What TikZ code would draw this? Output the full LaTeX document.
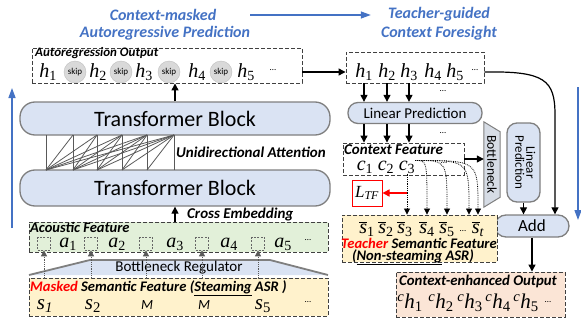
\documentclass[tikz,border=0pt]{standalone}
\usepackage{fontspec}
\setmainfont{Carlito}
\newfontfamily\tokf{Liberation Serif}
\usetikzlibrary{arrows.meta}

\definecolor{tfblue}{HTML}{DAE3F3}
\definecolor{lineg}{HTML}{7F7F7F}
\definecolor{acgreen}{HTML}{E2F0D9}
\definecolor{semcream}{HTML}{FFF2CC}
\definecolor{outpeach}{HTML}{FBE5D6}
\definecolor{skipg}{HTML}{D9D9D9}
\definecolor{titleblue}{HTML}{4472C4}
\definecolor{attg}{HTML}{595959}
\definecolor{bnkfill}{HTML}{D6DCE5}

% tokens: plain, italic index, barred, context-enhanced
\newcommand\tkn[2]{{\tokf\itshape #1}\textsubscript{\tokf #2}}
\newcommand\tki[2]{{\tokf\itshape #1}\textsubscript{\tokf\itshape #2}}
\newcommand\tkb[2]{$\overline{\mbox{\tokf\itshape #1}}$\textsubscript{\tokf #2}}
\newcommand\tkc[1]{\textsuperscript{\tokf\itshape c}{\tokf\itshape h}\textsubscript{\tokf #1}}
\newcommand\lblsize[1]{\fontsize{#1}{#1}\selectfont\bfseries\itshape}

\begin{document}
\begin{tikzpicture}[x=1pt, y=-1pt,
    dbox/.style={draw=black!75, dash pattern=on 4pt off 2pt, line width=0.9pt, inner sep=0},
    blk/.style={draw=lineg, line width=1.3pt, fill=tfblue, inner sep=0},
    lbl/.style={font=\lblsize{13}, inner sep=1pt, anchor=west},
    ttl/.style={font=\fontsize{16}{16}\selectfont\bfseries\itshape, text=titleblue, inner sep=0},
    tok/.style={font=\fontsize{20}{20}\selectfont, inner sep=0},
    dts/.style={font=\fontsize{9}{9}\selectfont, inner sep=0},
    skp/.style={circle, draw=black!25, fill=skipg, minimum size=22pt, inner sep=0, font=\fontsize{9}{9}\selectfont},
    sq/.style={draw=black!60, dash pattern=on 2pt off 1.5pt, line width=0.7pt, minimum size=13pt, inner sep=0},
    arr/.style={-{Triangle[length=7pt,width=7pt]}, line width=1.2pt},
    dotarr/.style={densely dotted, line width=0.8pt, -{Triangle[length=6pt,width=6pt]}},
    gdot/.style={attg, densely dotted, line width=0.8pt, -{Triangle[length=6pt,width=6pt]}},
    bluearr/.style={titleblue, line width=1.3pt, -{Triangle[length=10pt,width=7pt]}},
    redarr/.style={red, line width=1.5pt, -{Triangle[length=7pt,width=7pt]}}
  ]
  \useasboundingbox (0,0) rectangle (581,321);

  % titles
  \node[ttl] (t1a) at (163,15) {Context-masked};
  \node[ttl] (t1b) at (165,33) {Autoregressive Prediction};
  \node[ttl] (t2a) at (439,14) {Teacher-guided};
  \node[ttl] (t2b) at (439,33) {Context Foresight};
  \coordinate (tarr) at ([xshift=-10pt]t2b.west);
  \draw[bluearr] (t1b.east |- t1a) -- (tarr |- t1a);

  \coordinate (lb0) at (12,228);
  \coordinate (lb1) at (12,88);
  \draw[bluearr] (lb0) -- (lb1);
  \coordinate (rb0) at (578,87);
  \coordinate (rb1) at (578,220);
  \draw[bluearr] (rb0) -- (rb1);

  % autoregression output
  \node[dbox, minimum width=270pt, minimum height=35pt] (arout) at (167,65.5) {};
  \node[lbl] (arlbl) at (34,53) {Autoregression Output};
  \node[tok] (ah1) at (48,72) {\tkn{h}{1}};
  \node[skp] (sk1) at (75,72) {skip};
  \node[tok] (ah2) at (98,72) {\tkn{h}{2}};
  \node[skp] (sk2) at (121,72) {skip};
  \node[tok] (ah3) at (144,72) {\tkn{h}{3}};
  \node[skp] (sk3) at (169,72) {skip};
  \node[tok] (ah4) at (197,72) {\tkn{h}{4}};
  \node[skp] (sk4) at (221,72) {skip};
  \node[tok] (ah5) at (246,72) {\tkn{h}{5}};
  \node[dts] (adots) at (273,70) {\dots};

  % transformer blocks
  \node[blk, rounded corners=15pt, minimum width=310pt, minimum height=33pt,
        font=\fontsize{22}{22}\selectfont] (tb2) at (175,118.5) {Transformer Block};
  \node[blk, rounded corners=15pt, minimum width=310pt, minimum height=36pt,
        font=\fontsize{22}{22}\selectfont] (tb1) at (175,188) {Transformer Block};
  \draw[arr] (tb2.north) -- (tb2.north |- arout.south);

  % unidirectional attention
  \foreach \i/\x in {1/46,2/73,3/97,4/122,5/147,6/174} {
    \coordinate (at\i) at (\x,135);
    \coordinate (ab\i) at (\x,170);
  }
  \foreach \i in {1,...,6} {
    \draw[attg, line width=0.8pt] (ab\i) -- (at\i);
    \foreach \j in {\i,...,6} {
      \ifnum\j>\i \draw[attg, line width=0.8pt] (ab\i) -- (at\j); \fi
    }
  }
  \node[lbl, font=\lblsize{15}] (ualbl) at (175,152) {Unidirectional Attention};

  % acoustic feature
  \node[dbox, fill=acgreen, minimum width=299pt, minimum height=30pt] (acou) at (178.5,237) {};
  \draw[arr] (tb1.south |- acou.north) -- (tb1.south);
  \node[lbl, font=\lblsize{15}] (celbl) at (186,214) {Cross Embedding};
  \node[lbl, font=\lblsize{14.5}] (aclbl) at (29,227.5) {Acoustic Feature};
  \node[sq] (sq1) at (44,243.5) {};
  \node[sq] (sq2) at (91,243.5) {};
  \node[sq] (sq3) at (146,243.5) {};
  \node[sq] (sq4) at (202,243.5) {};
  \node[sq] (sq5) at (258,243.5) {};
  \node[tok] (aa1) at (68,244) {\tkn{a}{1}};
  \node[tok] (aa2) at (117,244) {\tkn{a}{2}};
  \node[tok] (aa3) at (175,244) {\tkn{a}{3}};
  \node[tok] (aa4) at (229,244) {\tkn{a}{4}};
  \node[tok] (aa5) at (283,244) {\tkn{a}{5}};
  \node[dts] (acdots) at (308,240) {\dots};

  % bottleneck regulator
  \draw[lineg, line width=1.8pt, fill=tfblue] (29,275) -- (90,260) -- (270,260) -- (328,275);
  \node[font=\fontsize{15}{15}\selectfont, inner sep=0] (breg) at (179,267.5) {Bottleneck Regulator};

  % masked semantic feature
  \node[dbox, fill=semcream, minimum width=299pt, minimum height=38pt] (mk) at (178.5,297) {};
  \node[lbl, font=\lblsize{14.6}] (mklbl) at (29,288) {\textcolor{red}{Masked} Semantic Feature (\underline{Steaming} ASR )};
  \node[tok, font=\fontsize{21}{21}\selectfont] (ms1) at (45,306) {\tki{s}{1}};
  \node[tok, font=\fontsize{21}{21}\selectfont] (ms2) at (93,306) {\tkn{s}{2}};
  \node[tok, font=\fontsize{14}{14}\selectfont\itshape] (mm3) at (147,305) {M};
  \node[tok, font=\fontsize{14}{14}\selectfont\itshape] (mm4) at (204,305) {M};
  \node[tok, font=\fontsize{21}{21}\selectfont] (ms5) at (263,306) {\tkn{s}{5}};
  \node[dts] (mkdots) at (308,302) {\dots};
  \draw[gdot] (sq1 |- mklbl.north) -- (sq1.south);
  \draw[gdot] (sq2 |- mklbl.north) -- (sq2.south);
  \draw[gdot] (sq3 |- mklbl.north) -- (sq3.south);
  \draw[gdot] (sq4 |- mklbl.north) -- (sq4.south);
  \draw[gdot] (sq5 |- mklbl.north) -- (sq5.south);

  % teacher side
  \node[dbox, minimum width=138pt, minimum height=31pt] (hbox) at (415,67.5) {};
  \node[tok] (rh1) at (364,72) {\tkn{h}{1}};
  \node[tok] (rh2) at (387,72) {\tkn{h}{2}};
  \node[tok] (rh3) at (409,72) {\tkn{h}{3}};
  \node[tok] (rh4) at (433,72) {\tkn{h}{4}};
  \node[tok] (rh5) at (455,72) {\tkn{h}{5}};
  \node[dts] (rhdots) at (475,70) {\dots};
  \draw[arr] (arout.east |- rh1) -- (hbox.west |- rh1);

  \node[blk, rounded corners=10pt, minimum width=134pt, minimum height=21pt,
        font=\fontsize{15}{15}\selectfont] (lp) at (415,113) {Linear Prediction};
  \draw[arr] (rh1 |- hbox.south) -- (rh1 |- lp.north);
  \draw[arr] (rh2 |- hbox.south) -- (rh2 |- lp.north);
  \draw[arr] (rh3 |- hbox.south) -- (rh3 |- lp.north);
  \node[dts] (lpdots1) at (443,91) {\dots};

  \node[dbox, minimum width=121pt, minimum height=32pt] (ctx) at (403.5,159) {};
  \node[lbl, font=\lblsize{15}] (ctxlbl) at (343,150) {Context Feature};
  \node[tok] (cc1) at (365,167) {\tkn{c}{1}};
  \node[tok] (cc2) at (386,167) {\tkn{c}{2}};
  \node[tok] (cc3) at (407,167) {\tkn{c}{3}};
  \node[dts] (ccdots) at (444,163) {\dots};
  \draw[arr] (rh1 |- lp.south) -- (rh1 |- ctx.north);
  \draw[arr] (rh2 |- lp.south) -- (rh2 |- ctx.north);
  \draw[arr] (rh3 |- lp.south) -- (rh3 |- ctx.north);
  \node[dts] (lpdots2) at (443,133) {\dots};

  % bottleneck
  \node[minimum width=16pt, minimum height=85pt, inner sep=0] (bnk) at (492,164.5) {};
  \draw[lineg, line width=1pt, fill=bnkfill] (bnk.north west) -- ([yshift=-10pt]bnk.north east)
    -- ([yshift=10pt]bnk.south east) -- (bnk.south west) -- cycle;
  \node[font=\fontsize{13.5}{13.5}\selectfont, inner sep=0] (bnktxt) at (bnk) {\rotatebox{-90}{Bottleneck}};
  \draw[arr] (ctx.east) -- (ctx.east -| bnk.west);

  \node[blk, rounded corners=10pt, minimum width=33pt, minimum height=79pt,
        font=\fontsize{13}{13}\selectfont] (lpv) at (523.5,162.5)
        {\rotatebox{-90}{\begin{tabular}{@{}c@{}}Linear\\[-2pt]Prediction\end{tabular}}};

  \node[blk, rounded corners=11pt, minimum width=74pt, minimum height=22pt,
        font=\fontsize{17}{17}\selectfont] (add) at (532,226) {Add};
  \draw[arr] (lpv.south) -- (lpv.south |- add.north);
  \coordinate (addin) at ([xshift=23pt]add.north);
  \draw[arr] (hbox.east |- rh1) .. controls (545,71) and (555,80) .. (555,115) -- (addin);

  % teacher semantic feature
  \node[dbox, fill=semcream, minimum width=155pt, minimum height=47pt] (tb) at (419.5,238.5) {};
  \node[tok] (sb1) at (367,229) {\tkb{s}{1}};
  \node[tok] (sb2) at (386,229) {\tkb{s}{2}};
  \node[tok] (sb3) at (405,229) {\tkb{s}{3}};
  \node[tok] (sb4) at (427,229) {\tkb{s}{4}};
  \node[tok] (sb5) at (447,229) {\tkb{s}{5}};
  \node[dts] (sbdots) at (463,231) {\dots};
  \node[tok] (sbt) at (478,229) {$\overline{\mbox{\tokf\itshape s}}$\textsubscript{\tokf\itshape t}};
  \node[lbl, font=\lblsize{14.6}] (tblbl) at (340,243.5) {\textcolor{red}{Teacher} Semantic Feature};
  \node[lbl, font=\lblsize{14.6}, anchor=center] (tblbl2) at (413,257.5) {(\underline{Non-steaming} ASR)};

  \node[draw=red, line width=1pt, fill=white, minimum width=30pt, minimum height=26pt,
        inner sep=0, font=\fontsize{17}{17}\selectfont] (ltf) at (367,193) {\tki{L}{TF}};

  \coordinate (sbt0) at ([xshift=-9pt]sbt.center);
  \draw[dotarr] (cc3.south) -- (cc3 |- tb.north);
  \draw[dotarr] (cc3.north east) .. controls (sb4 |- cc3.north east) .. (sb4 |- tb.north);
  \draw[dotarr] (cc3.north east) .. controls (sb5 |- cc3.north east) .. (sb5 |- tb.north);
  \draw[dotarr] (cc3.north east) .. controls (sbt0 |- cc3.north east) .. (sbt0 |- tb.north);
  \draw[dotarr] (cc3.north east) .. controls (sbt |- cc3.north east) .. (sbt |- tb.north);
  \draw[redarr] (cc3 |- ltf) -- (ltf.east);

  % context-enhanced output
  \node[dbox, fill=outpeach, minimum width=169pt, minimum height=45pt] (out) at (480.5,294.5) {};
  \draw[arr] (add.south) -- (add.south |- out.north);
  \node[lbl, font=\lblsize{14.8}] (outlbl) at (398,281) {Context-enhanced Output};
  \node[tok, font=\fontsize{21}{21}\selectfont] (oh1) at (410,303) {\tkc{1}};
  \node[tok, font=\fontsize{21}{21}\selectfont] (oh2) at (441,303) {\tkc{2}};
  \node[tok, font=\fontsize{21}{21}\selectfont] (oh3) at (470,303) {\tkc{3}};
  \node[tok, font=\fontsize{21}{21}\selectfont] (oh4) at (498,303) {\tkc{4}};
  \node[tok, font=\fontsize{21}{21}\selectfont] (oh5) at (526,303) {\tkc{5}};
  \node[dts] (ohdots) at (548,302) {\dots};
\end{tikzpicture}
\end{document}
